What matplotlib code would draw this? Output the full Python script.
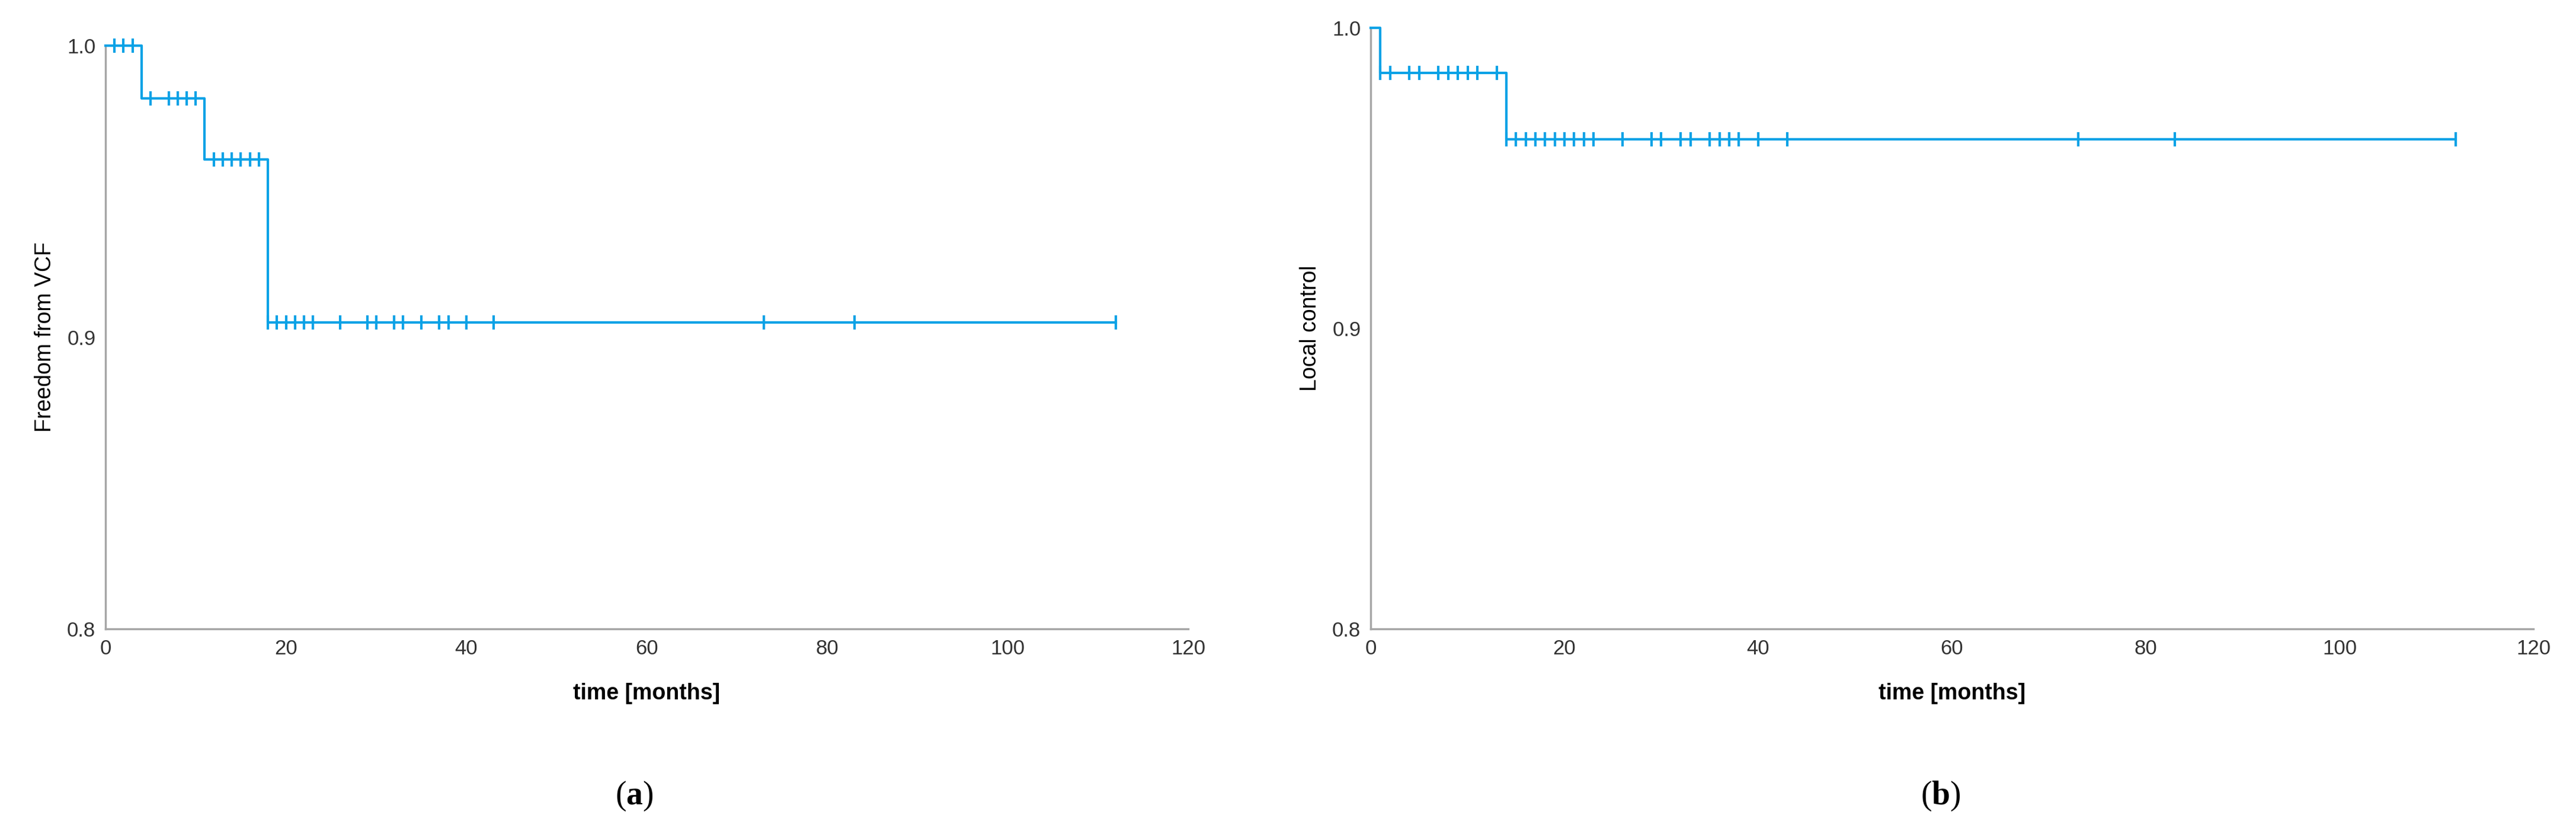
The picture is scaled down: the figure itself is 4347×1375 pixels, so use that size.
import matplotlib
matplotlib.use("Agg")
import matplotlib.pyplot as plt
import numpy as np

# Panel (a): Freedom from VCF
a_event_times = [0, 4, 11, 18]
a_event_surv = [1.0, 0.982, 0.961, 0.905]
a_censor_times = [1, 2, 3, 5, 7, 8, 9, 10, 12, 13, 14, 15, 16, 17,
                  18, 19, 20, 21, 22, 23, 26, 29, 30, 32, 33, 35, 37, 38, 40, 43, 73, 83, 112]
a_end = 112

# Panel (b): Local control
b_event_times = [0, 1, 14]
b_event_surv = [1.0, 0.985, 0.963]
b_censor_times = [1, 2, 4, 5, 7, 8, 9, 10, 11, 13,
                  14, 15, 16, 17, 18, 19, 20, 21, 22, 23, 26, 29, 30, 32, 33, 35, 36, 37, 38, 40, 43, 73, 83, 112]
b_end = 112

xticks = [0, 20, 40, 60, 80, 100, 120]
yticks = [0.8, 0.9, 1.0]
ytick_labels = ["0.8", "0.9", "1.0"]

LINE = "#0aa2e6"
GREY = "#a6a6a6"

plt.rcParams['font.family'] = ['Liberation Sans', 'DejaVu Sans']
plt.rcParams['mathtext.fontset'] = 'custom'
plt.rcParams['mathtext.bf'] = 'Liberation Serif:bold'
plt.rcParams['mathtext.rm'] = 'Liberation Serif'

fig = plt.figure(figsize=(43.47, 13.75), dpi=100)
W, H = 4347, 1375

def surv_at(t, times, surv):
    idx = np.searchsorted(times, t, side='right') - 1
    return surv[idx]

def panel(rect, etimes, esurv, ctimes, end, ylabel, tag, tagx):
    l, r, top, bot = rect
    ax = fig.add_axes([l / W, 1 - bot / H, (r - l) / W, (bot - top) / H])
    xs = list(etimes) + [end]
    ys = list(esurv) + [esurv[-1]]
    ax.step(xs, ys, where='post', color=LINE, lw=3, clip_on=False, zorder=3)
    cy = [surv_at(t, etimes, esurv) for t in ctimes]
    ax.plot(ctimes, cy, ls='none', marker='|', ms=17, mew=3, color=LINE, clip_on=False, zorder=3)
    ax.set_xlim(0, 120)
    ax.set_ylim(0.8, 1.0)
    ax.set_xticks(xticks)
    ax.set_yticks(yticks)
    ax.set_yticklabels(ytick_labels)
    ax.tick_params(length=0, labelsize=25, colors='#333333', pad=12)
    for s in ['top', 'right']:
        ax.spines[s].set_visible(False)
    for s in ['left', 'bottom']:
        ax.spines[s].set_color(GREY)
        ax.spines[s].set_linewidth(2.5)
    ax.set_xlabel("time [months]", fontsize=27, fontweight='bold', labelpad=30)
    ax.set_ylabel(ylabel, fontsize=27, labelpad=14)
    fig.text(tagx / W, 1 - 1343 / H, r"($\mathbf{" + tag + r"}$)", fontsize=40,
             family='Liberation Serif', ha='center', va='center')
    return ax

panel((178, 2005, 77, 1061), a_event_times, a_event_surv, a_censor_times, a_end,
      "Freedom from VCF", "a", 1070)
panel((2313, 4275, 47, 1061), b_event_times, b_event_surv, b_censor_times, b_end,
      "Local control", "b", 3275)

fig.savefig("out.png", dpi=100, facecolor='white')
